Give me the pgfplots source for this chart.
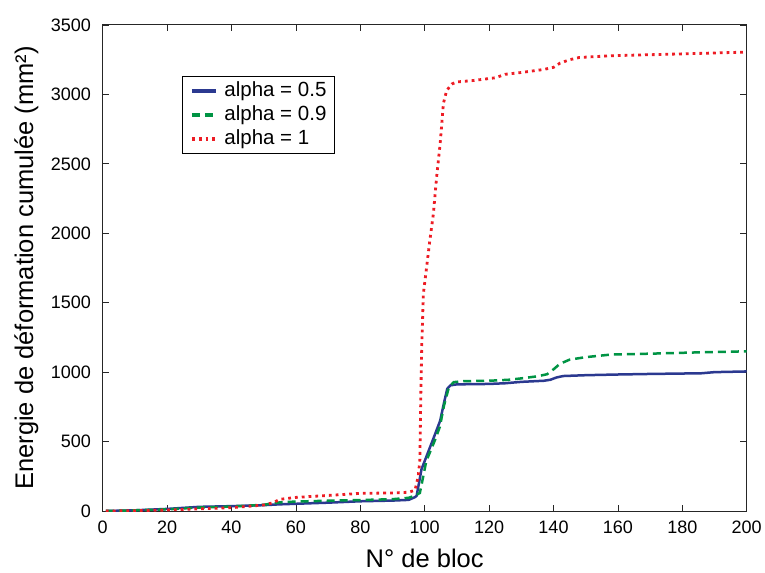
\documentclass[border=0pt]{standalone}
\usepackage{fontspec}
\setmainfont{Liberation Sans}
\usepackage{pgfplots}
\pgfplotsset{compat=1.18}
\definecolor{cblue}{RGB}{43,57,144}
\definecolor{cgreen}{RGB}{0,148,68}
\definecolor{cred}{RGB}{237,28,36}
\begin{document}
\begin{tikzpicture}
\path (-102.7bp,-61.5bp) rectangle (662.3bp,511bp);
\begin{axis}[
  at={(0,0)}, anchor=south west,
  scale only axis, width=644bp, height=486bp,
  xmin=0, xmax=200, ymin=0, ymax=3500,
  xtick={0,20,...,200}, ytick={0,500,...,3500},
  tick align=inside, major tick length=6.5bp,
  axis line style={line width=1bp, black!85},
  every tick/.style={line width=0.8bp, black!85},
  /pgf/number format/assume math mode=true,
  /pgf/number format/1000 sep={},
  scaled ticks=false,
  tick label style={font=\fontsize{18bp}{20bp}\selectfont, inner sep=0pt},
  yticklabel style={anchor=east, xshift=-11.7bp},
  xticklabel style={anchor=base, yshift=-22bp},
  label style={font=\fontsize{25.5bp}{28bp}\selectfont},
  xlabel={N° de bloc},
  ylabel={Energie de déformation cumulée (mm²)},
  xlabel style={at={(axis description cs:0.5,-0.1160)}, anchor=base},
  ylabel style={at={(axis description cs:-0.1082,0.5)}, anchor=base},
  legend style={at={(axis description cs:0.1227,0.895)}, anchor=north west,
    draw=black, line width=1bp, font=\fontsize{20.5bp}{24bp}\selectfont,
    nodes={inner sep=0pt, text height=15bp, text depth=5bp},
    row sep=4bp, column sep=6.7bp, inner xsep=8bp, inner ysep=4.5bp},
  legend cell align=left,
  legend image code/.code={\draw[#1, line width=3.5bp] (0bp,0bp) -- (24bp,0bp);},
]
\addplot[cblue, line width=2.5bp] coordinates {
(1,0)(10,5)(20,15)(30,30)(40,35)(50,42)(55,48)(60,52)(70,60)(80,70)(90,75)(95,80)(97,100)(97.5,110)(99,300)(101,420)(103,540)(104.8,650)(106,780)(107,880)(108,905)(110,912)(120,915)(125,920)(130,930)(137,938)(139,945)(141,962)(143,972)(150,978)(160,983)(170,987)(180,990)(186,992)(190,1000)(200,1005)};
\addlegendentry{alpha = 0.5}
\addplot[cgreen, line width=2.5bp, dash pattern=on 8bp off 5bp] coordinates {
(1,0)(10,5)(20,12)(30,25)(40,32)(50,45)(55,62)(60,68)(70,74)(80,79)(90,85)(95,95)(97,110)(98.5,130)(100.5,360)(103,500)(104.7,606)(106,760)(107.5,890)(109,928)(112,935)(120,938)(126,945)(130,955)(135,970)(138,985)(140,1020)(142,1060)(145,1090)(150,1108)(158,1127)(170,1133)(186,1143)(200,1150)};
\addlegendentry{alpha = 0.9}
\addplot[cred, line width=2.8bp, dash pattern=on 2.8bp off 4bp] coordinates {
(1,0)(10,2)(20,7)(30,15)(40,24)(50,43)(53,60)(55,84)(60,98)(70,112)(80,127)(90,130)(95,135)(97,150)(98,250)(98.5,370)(98.8,846)(99.1,1208)(99.6,1567)(100.6,1757)(101.6,1950)(102.7,2141)(103.7,2405)(104.8,2645)(105.8,2933)(106.8,3027)(108.4,3075)(110,3090)(115,3100)(122,3120)(125,3145)(130,3158)(137,3180)(140,3195)(142,3225)(145,3250)(148,3266)(155,3275)(160,3280)(180,3292)(200,3305)};
\addlegendentry{alpha = 1}
\end{axis}
\end{tikzpicture}
\end{document}
